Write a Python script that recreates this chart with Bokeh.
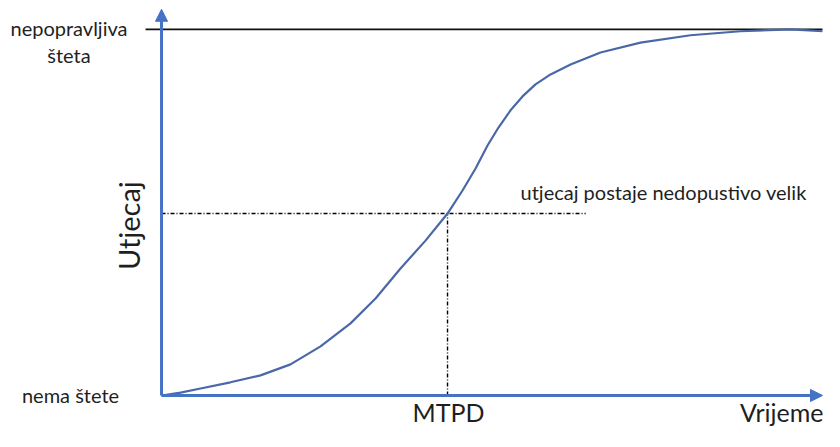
from bokeh.plotting import figure
from bokeh.models import Range1d, Arrow, NormalHead, Label
from bokeh.embed import file_html
from bokeh.resources import INLINE

# ---- data ----
time = [0, 0.284, 0.583, 1.031, 1.480, 1.928, 2.377, 2.825, 3.199, 3.572, 3.946,
        4.275, 4.499, 4.694, 4.873, 5.037, 5.217, 5.396, 5.590, 5.815, 6.114,
        6.562, 7.160, 7.907, 8.655, 9.402, 9.880]
impact = [0, 0.008, 0.019, 0.036, 0.055, 0.085, 0.134, 0.197, 0.265, 0.347, 0.423,
          0.497, 0.560, 0.620, 0.683, 0.732, 0.779, 0.817, 0.850, 0.877, 0.904,
          0.937, 0.964, 0.984, 0.995, 1.0, 0.995]
mtpd_time = 4.275
mtpd_impact = 0.497
threshold_end = 6.34
max_impact = 1.0
x_axis_end = 9.88
y_axis_end = 1.055
label_top = ["nepopravljiva", "šteta"]
label_bottom = "nema štete"
y_title = "Utjecaj"
x_title = "Vrijeme"
mtpd_label = "MTPD"
note = "utjecaj postaje  nedopustivo velik"

FONT = "Lato"
AXIS_BLUE = "#4472C4"
CURVE_BLUE = "#4A68A8"
TXT = "#1f1f1f"

p = figure(width=824, height=431, output_backend="svg", toolbar_location=None,
           x_range=Range1d(-2.407, 9.910), y_range=Range1d(-0.0984, 1.079),
           min_border=0, min_border_left=0, min_border_right=0,
           min_border_top=0, min_border_bottom=0)
p.axis.visible = False
p.grid.visible = False
p.outline_line_color = None
p.background_fill_color = "white"

# irreversible-damage line
p.line([-0.239, x_axis_end], [max_impact, max_impact], line_color="#111111", line_width=1.6)

# threshold dash-dot lines
p.line([0, threshold_end], [mtpd_impact, mtpd_impact], line_color="black", line_width=1.4, line_dash="4 2 1 2")
p.line([mtpd_time, mtpd_time], [0, mtpd_impact], line_color="black", line_width=1.4, line_dash="4 2 1 2")

# S-curve
p.line(time, impact, line_color=CURVE_BLUE, line_width=2.2, line_join="round")

# axes with arrows
p.add_layout(Arrow(x_start=0, y_start=0, x_end=x_axis_end, y_end=0,
                   line_color=AXIS_BLUE, line_width=3,
                   end=NormalHead(size=12, fill_color=AXIS_BLUE, line_color=AXIS_BLUE, line_width=1)))
p.add_layout(Arrow(x_start=0, y_start=0, x_end=0, y_end=y_axis_end,
                   line_color=AXIS_BLUE, line_width=3,
                   end=NormalHead(size=12, fill_color=AXIS_BLUE, line_color=AXIS_BLUE, line_width=1)))

def lab(x, y, t, size, align="center", angle=0, baseline="middle"):
    p.add_layout(Label(x=x, y=y, text=t, text_font=FONT, text_font_size=size,
                       text_color=TXT, text_align=align, text_baseline=baseline,
                       angle=angle))

lab(-1.383, 1.005, label_top[0], "20px")
lab(-1.383, 0.929, label_top[1], "20px")
lab(-1.36, 0.0, label_bottom, "20px")
lab(-0.493, 0.464, y_title, "29px", angle=1.5708)
lab(4.29, -0.044, mtpd_label, "25px")
lab(9.895, -0.044, x_title, "25px", align="right")
lab(5.366, 0.555, note, "20px", align="left")

open("out.html", "w").write(file_html(p, INLINE))
